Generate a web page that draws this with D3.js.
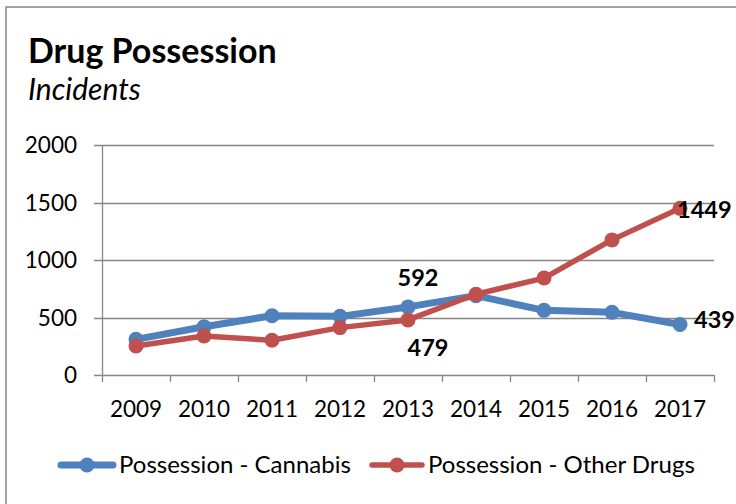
<!DOCTYPE html>
<html>
<head>
<meta charset="utf-8">
<script src="https://cdn.jsdelivr.net/npm/d3@7"></script>
<style>
  body { margin: 0; background: #fff; }
  svg { display: block; font-family: Lato, "Open Sans", sans-serif; }
</style>
</head>
<body>
<svg id="chart"></svg>
<script>
const years = ["2009", "2010", "2011", "2012", "2013", "2014", "2015", "2016", "2017"];
const cannabis = [310, 420, 515, 510, 592, 690, 562, 545, 439];
const otherDrugs = [252, 339, 302, 412, 479, 702, 843, 1175, 1449];
const yTicks = [0, 500, 1000, 1500, 2000];
const seriesNames = ["Possession - Cannabis", "Possession - Other Drugs"];
const seriesColors = ["#4F81BD", "#C0504D"];

const width = 736, height = 504;
const svg = d3.select("#chart").attr("width", width).attr("height", height);

// outer chart frame
svg.append("path")
    .attr("d", "M6,504 V7 H736")
    .attr("fill", "none")
    .attr("stroke", "#868686")
    .attr("stroke-width", 1.5);

svg.append("text")
    .attr("x", 28).attr("y", 63)
    .attr("font-size", 34).attr("font-weight", "bold")
    .text("Drug Possession");
svg.append("text")
    .attr("x", 28).attr("y", 100)
    .attr("font-size", 30).attr("font-style", "italic")
    .text("Incidents");

const x = d3.scaleBand().domain(years).range([102, 714]);
const y = d3.scaleLinear().domain([0, 2000]).range([375, 145]);

// gridlines
svg.append("g")
    .selectAll("line")
    .data(yTicks)
    .enter()
    .append("line")
    .attr("x1", 94).attr("x2", 714)
    .attr("y1", d => Math.round(y(d)) + 0.5)
    .attr("y2", d => Math.round(y(d)) + 0.5)
    .attr("stroke", "#868686")
    .attr("stroke-width", 1.3);

// y labels
svg.append("g")
    .selectAll("text")
    .data(yTicks)
    .enter()
    .append("text")
    .attr("x", 77)
    .attr("y", d => y(d) + 8)
    .attr("text-anchor", "end")
    .attr("font-size", 22.5)
    .text(d => d);

// vertical axis line
svg.append("line")
    .attr("x1", 102.5).attr("x2", 102.5)
    .attr("y1", 145).attr("y2", 375)
    .attr("stroke", "#868686").attr("stroke-width", 1.3);

// category tick marks
const boundaries = years.map(d => x(d)).concat([x.range()[1]]);
svg.append("g")
    .selectAll("line")
    .data(boundaries)
    .enter()
    .append("line")
    .attr("x1", d => Math.round(d) + 0.5)
    .attr("x2", d => Math.round(d) + 0.5)
    .attr("y1", 375).attr("y2", 382)
    .attr("stroke", "#868686").attr("stroke-width", 1.3);

// x labels
svg.append("g")
    .selectAll("text")
    .data(years)
    .enter()
    .append("text")
    .attr("x", d => x(d) + x.bandwidth() / 2)
    .attr("y", 417)
    .attr("text-anchor", "middle")
    .attr("font-size", 22.5)
    .text(d => d);

const line = d3.line()
    .x((d, i) => x(years[i]) + x.bandwidth() / 2)
    .y(d => y(d));

[cannabis, otherDrugs].forEach((values, s) => {
    svg.append("path")
        .datum(values)
        .attr("d", line)
        .attr("fill", "none")
        .attr("stroke", seriesColors[s])
        .attr("stroke-width", s === 0 ? 7 : 5.5)
        .attr("stroke-linejoin", "round");
    svg.append("g")
        .selectAll("circle")
        .data(values)
        .enter()
        .append("circle")
        .attr("cx", (d, i) => x(years[i]) + x.bandwidth() / 2)
        .attr("cy", d => y(d))
        .attr("r", 7.5)
        .attr("fill", seriesColors[s]);
});

// data labels
const cx = i => x(years[i]) + x.bandwidth() / 2;
const labels = [
    {v: cannabis[4], x: cx(4) + 10, y: y(cannabis[4]) - 21, anchor: "middle"},
    {v: otherDrugs[4], x: cx(4) + 20, y: y(otherDrugs[4]) + 36, anchor: "middle"},
    {v: otherDrugs[8], x: cx(8) - 3, y: y(otherDrugs[8]) + 10, anchor: "start"},
    {v: cannabis[8], x: cx(8) + 14, y: y(cannabis[8]) + 3, anchor: "start"}
];
svg.append("g")
    .selectAll("text")
    .data(labels)
    .enter()
    .append("text")
    .attr("x", d => d.x)
    .attr("y", d => d.y)
    .attr("text-anchor", d => d.anchor)
    .attr("font-size", 23.5)
    .attr("font-weight", "bold")
    .text(d => d.v);

// legend
const legendItems = [
    {x1: 58, x2: 116, tx: 119},
    {x1: 369, x2: 425, tx: 428}
];
legendItems.forEach((it, s) => {
    const g = svg.append("g");
    g.append("line")
        .attr("x1", it.x1 + 3).attr("x2", it.x2 - 3)
        .attr("y1", 465).attr("y2", 465)
        .attr("stroke", seriesColors[s])
        .attr("stroke-width", s === 0 ? 7 : 5.5)
        .attr("stroke-linecap", "round");
    g.append("circle")
        .attr("cx", (it.x1 + it.x2) / 2).attr("cy", 465)
        .attr("r", 7.5).attr("fill", seriesColors[s]);
    g.append("text")
        .attr("x", it.tx).attr("y", 473)
        .attr("font-size", 24)
        .text(seriesNames[s]);
});
</script>
</body>
</html>
